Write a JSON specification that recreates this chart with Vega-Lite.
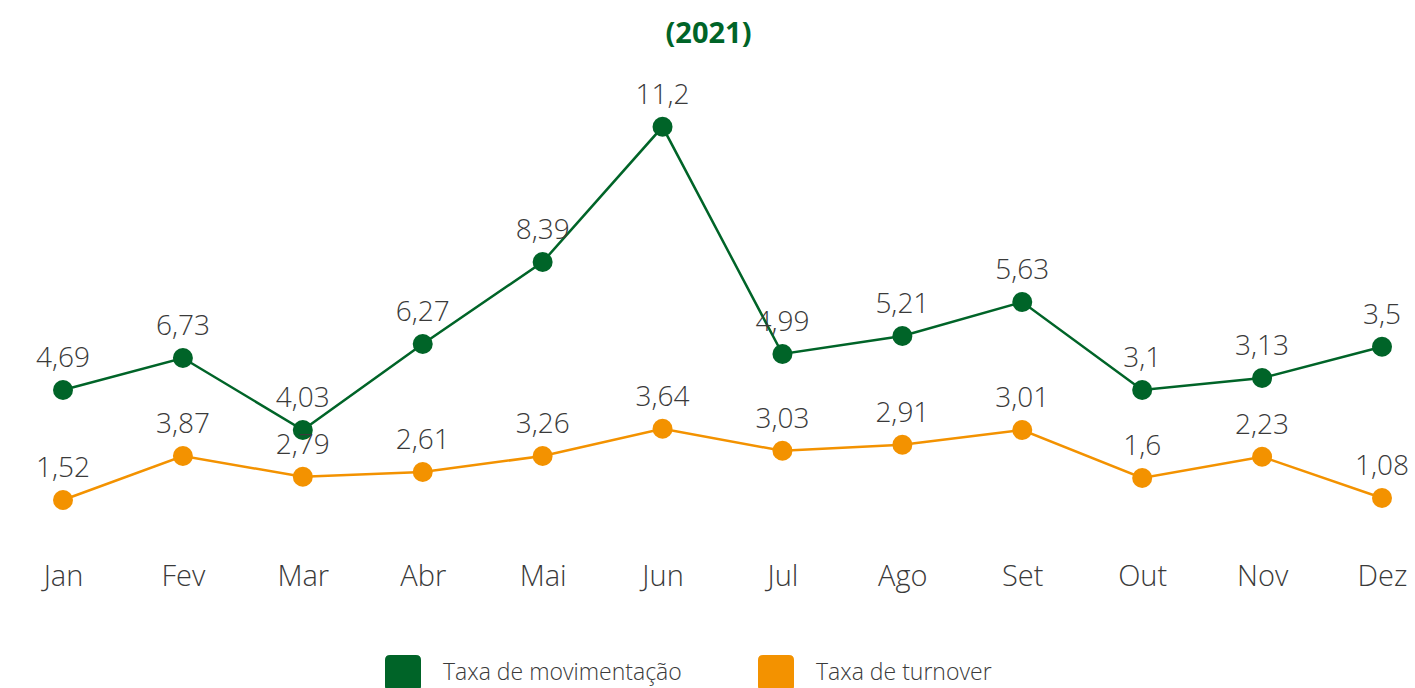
{
  "$schema": "https://vega.github.io/schema/vega-lite/v6.json",
  "width": 1319,
  "height": 480,
  "autosize": {"type": "none"},
  "padding": {"left": 63, "top": 60, "right": 33, "bottom": 148},
  "background": "white",
  "title": {
    "text": "(2021)",
    "color": "#006428",
    "font": "Open Sans",
    "fontSize": 29,
    "fontWeight": "bold",
    "anchor": "middle",
    "baseline": "alphabetic",
    "offset": -12,
    "dx": -14
  },
  "config": {
    "view": {"stroke": null},
    "font": "Open Sans",
    "locale": {"number": {"decimal": ",", "thousands": ".", "grouping": [3], "currency": ["R$", ""]}}
  },
  "data": {
    "values": [
      {"mes": "Jan", "serie": "Taxa de movimentação", "taxa": 4.69, "nivel": 3.75},
      {"mes": "Fev", "serie": "Taxa de movimentação", "taxa": 6.73, "nivel": 4.55},
      {"mes": "Mar", "serie": "Taxa de movimentação", "taxa": 4.03, "nivel": 2.75},
      {"mes": "Abr", "serie": "Taxa de movimentação", "taxa": 6.27, "nivel": 4.9},
      {"mes": "Mai", "serie": "Taxa de movimentação", "taxa": 8.39, "nivel": 6.95},
      {"mes": "Jun", "serie": "Taxa de movimentação", "taxa": 11.2, "nivel": 10.33},
      {"mes": "Jul", "serie": "Taxa de movimentação", "taxa": 4.99, "nivel": 4.65},
      {"mes": "Ago", "serie": "Taxa de movimentação", "taxa": 5.21, "nivel": 5.1},
      {"mes": "Set", "serie": "Taxa de movimentação", "taxa": 5.63, "nivel": 5.95},
      {"mes": "Out", "serie": "Taxa de movimentação", "taxa": 3.1, "nivel": 3.75},
      {"mes": "Nov", "serie": "Taxa de movimentação", "taxa": 3.13, "nivel": 4.05},
      {"mes": "Dez", "serie": "Taxa de movimentação", "taxa": 3.5, "nivel": 4.83},
      {"mes": "Jan", "serie": "Taxa de turnover", "taxa": 1.52, "nivel": 1.0},
      {"mes": "Fev", "serie": "Taxa de turnover", "taxa": 3.87, "nivel": 2.1},
      {"mes": "Mar", "serie": "Taxa de turnover", "taxa": 2.79, "nivel": 1.58},
      {"mes": "Abr", "serie": "Taxa de turnover", "taxa": 2.61, "nivel": 1.7},
      {"mes": "Mai", "serie": "Taxa de turnover", "taxa": 3.26, "nivel": 2.1},
      {"mes": "Jun", "serie": "Taxa de turnover", "taxa": 3.64, "nivel": 2.78},
      {"mes": "Jul", "serie": "Taxa de turnover", "taxa": 3.03, "nivel": 2.23},
      {"mes": "Ago", "serie": "Taxa de turnover", "taxa": 2.91, "nivel": 2.38},
      {"mes": "Set", "serie": "Taxa de turnover", "taxa": 3.01, "nivel": 2.75},
      {"mes": "Out", "serie": "Taxa de turnover", "taxa": 1.6, "nivel": 1.55},
      {"mes": "Nov", "serie": "Taxa de turnover", "taxa": 2.23, "nivel": 2.08},
      {"mes": "Dez", "serie": "Taxa de turnover", "taxa": 1.08, "nivel": 1.05}
    ]
  },
  "encoding": {
    "x": {
      "field": "mes",
      "type": "ordinal",
      "sort": ["Jan", "Fev", "Mar", "Abr", "Mai", "Jun", "Jul", "Ago", "Set", "Out", "Nov", "Dez"],
      "scale": {"type": "point", "padding": 0},
      "axis": {
        "title": null,
        "domain": false,
        "ticks": false,
        "labelAngle": 0,
        "labelFont": "Open Sans",
        "labelFontSize": 29,
        "labelFontWeight": 300,
        "labelColor": "#3a3a3a",
        "labelPadding": 22
      }
    },
    "y": {
      "field": "nivel",
      "type": "quantitative",
      "scale": {"domain": [0, 12]},
      "axis": null
    },
    "color": {
      "field": "serie",
      "type": "nominal",
      "scale": {"domain": ["Taxa de movimentação", "Taxa de turnover"], "range": ["#006428", "#F39200"]},
      "legend": {
        "title": null,
        "orient": "none",
        "direction": "horizontal",
        "legendX": 322,
        "legendY": 595,
        "symbolType": "M-0.72,-1H0.72Q1,-1 1,-0.72V0.72Q1,1 0.72,1H-0.72Q-1,1 -1,0.72V-0.72Q-1,-1 -0.72,-1Z",
        "symbolSize": 1296,
        "symbolStrokeWidth": 0,
        "symbolOpacity": 1,
        "labelFont": "Open Sans",
        "labelFontSize": 23,
        "labelFontWeight": 300,
        "labelColor": "#3a3a3a",
        "labelOffset": 22,
        "columnPadding": 76,
        "labelLimit": 400
      }
    }
  },
  "layer": [
    {
      "mark": {"type": "line", "strokeWidth": 2.5},
      "encoding": {}
    },
    {
      "mark": {"type": "point", "filled": true, "size": 400, "opacity": 1, "shape": "circle"},
      "encoding": {}
    },
    {
      "mark": {"type": "text", "baseline": "alphabetic", "dy": -23, "fontSize": 28, "fontWeight": 300, "font": "Open Sans", "color": "#3a3a3a"},
      "encoding": {
        "text": {"field": "taxa", "type": "quantitative", "format": ".3~g"},
        "color": {"value": "#3a3a3a"}
      }
    }
  ]
}
